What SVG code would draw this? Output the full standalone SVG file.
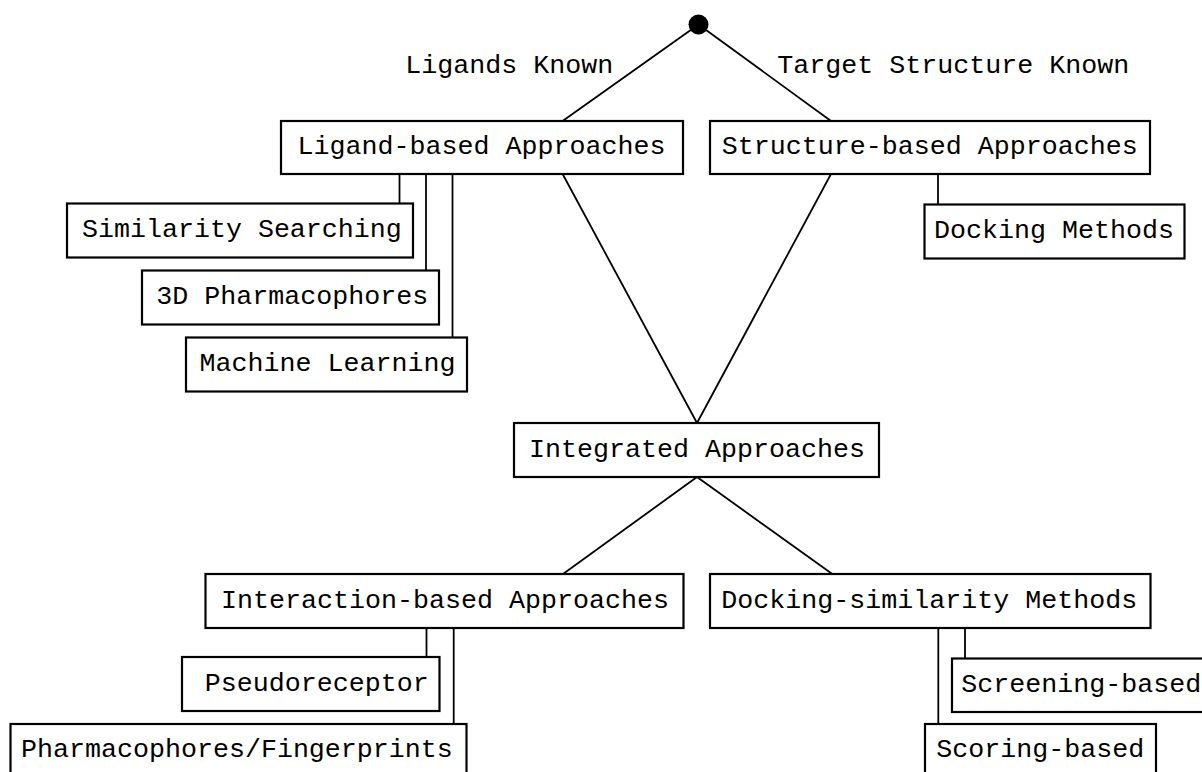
<svg xmlns="http://www.w3.org/2000/svg" width="1202" height="772" viewBox="0 0 1202 772">
  <style>
    .box { fill: #ffffff; stroke: #000000; stroke-width: 2.2; }
    .lbl { font-family: "Liberation Mono", "Courier New", monospace; font-size: 26.67px; fill: #000000; text-anchor: middle; }
    .conn { stroke: #000000; stroke-width: 1.8; fill: none; }
  </style>
  <rect x="0" y="0" width="1202" height="772" fill="#ffffff"/>

  <g id="connectors">
    <line class="conn" x1="698.5" y1="24.5" x2="562.6" y2="121"/>
    <line class="conn" x1="698.5" y1="24.5" x2="831" y2="121"/>
    <line class="conn" x1="562.6" y1="174" x2="697" y2="423"/>
    <line class="conn" x1="831" y1="174" x2="697" y2="423"/>
    <line class="conn" x1="697" y1="477" x2="563" y2="574"/>
    <line class="conn" x1="697" y1="477" x2="832.3" y2="574"/>
    <line class="conn" x1="399.5" y1="174" x2="399.5" y2="203.5"/>
    <line class="conn" x1="426" y1="174" x2="426" y2="270.5"/>
    <line class="conn" x1="452.5" y1="174" x2="452.5" y2="337.5"/>
    <line class="conn" x1="938" y1="174" x2="938" y2="204.5"/>
    <line class="conn" x1="426.5" y1="628" x2="426.5" y2="657"/>
    <line class="conn" x1="453.7" y1="628" x2="453.7" y2="724"/>
    <line class="conn" x1="965" y1="628" x2="965" y2="658.5"/>
    <line class="conn" x1="938.3" y1="628" x2="938.3" y2="724"/>
    <text class="lbl" x="509.2" y="72.5">Ligands Known</text>
    <text class="lbl" x="953.2" y="72.5">Target Structure Known</text>
  </g>

  <g id="root">
    <circle cx="698.5" cy="24.5" r="10" fill="#000000"/>
  </g>

  <g id="ligand-based">
    <rect class="box" x="281" y="121" width="402" height="53"/>
    <text class="lbl" x="481.5" y="154">Ligand-based Approaches</text>
  </g>
  <g id="structure-based">
    <rect class="box" x="710" y="121" width="440" height="53"/>
    <text class="lbl" x="929.7" y="154">Structure-based Approaches</text>
  </g>
  <g id="similarity-searching">
    <rect class="box" x="67" y="203.5" width="346" height="54"/>
    <text class="lbl" x="241.9" y="237.3">Similarity Searching</text>
  </g>
  <g id="pharmacophores-3d">
    <rect class="box" x="142" y="270.5" width="297" height="54"/>
    <text class="lbl" x="292.3" y="304.2">3D Pharmacophores</text>
  </g>
  <g id="machine-learning">
    <rect class="box" x="186" y="337.5" width="281" height="54"/>
    <text class="lbl" x="327.6" y="371">Machine Learning</text>
  </g>
  <g id="docking-methods">
    <rect class="box" x="924.5" y="204.5" width="260" height="54"/>
    <text class="lbl" x="1054" y="238.2">Docking Methods</text>
  </g>
  <g id="integrated">
    <rect class="box" x="514" y="423" width="365" height="54"/>
    <text class="lbl" x="697" y="456.5">Integrated Approaches</text>
  </g>
  <g id="interaction-based">
    <rect class="box" x="205.5" y="574" width="478" height="54"/>
    <text class="lbl" x="445" y="607.5">Interaction-based Approaches</text>
  </g>
  <g id="docking-similarity">
    <rect class="box" x="710" y="574" width="440.5" height="54"/>
    <text class="lbl" x="929.3" y="607.5">Docking-similarity Methods</text>
  </g>
  <g id="pseudoreceptor">
    <rect class="box" x="182" y="657" width="257.5" height="54"/>
    <text class="lbl" x="316.7" y="690.5">Pseudoreceptor</text>
  </g>
  <g id="pharmacophores-fingerprints">
    <rect class="box" x="10.5" y="724" width="456" height="54"/>
    <text class="lbl" x="236.9" y="757.2">Pharmacophores/Fingerprints</text>
  </g>
  <g id="screening-based">
    <rect class="box" x="952" y="658.5" width="262" height="53.5"/>
    <text class="lbl" x="1081.3" y="691.5">Screening-based</text>
  </g>
  <g id="scoring-based">
    <rect class="box" x="925" y="724" width="231" height="54"/>
    <text class="lbl" x="1040.3" y="757.2">Scoring-based</text>
  </g>
</svg>
